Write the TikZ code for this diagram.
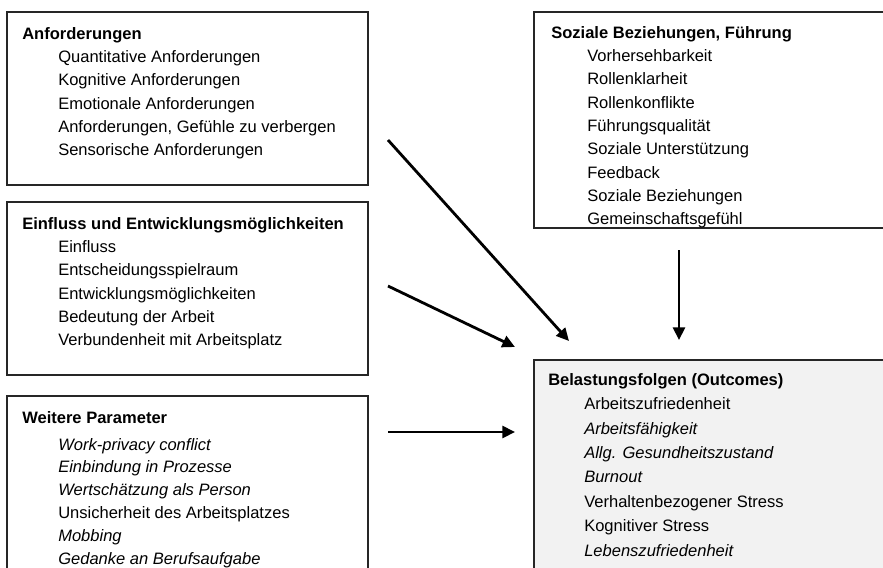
\documentclass[tikz,border=0pt]{standalone}
\usepackage{fontspec}
\setmainfont{Liberation Sans}
\usetikzlibrary{arrows.meta}

\newcommand{\einzug}{\hspace*{27pt}}

\begin{document}
\begin{tikzpicture}[x=0.75pt, y=-0.75pt,
    kasten/.style={draw=black!85, line width=1pt},
    liste/.style={anchor=north west, align=left, inner sep=0pt,
        font=\fontsize{12.4}{17.5}\selectfont},
    pfeil/.style={line width=2.1pt, -{Triangle[length=9.5pt, width=9pt]}}]

    \useasboundingbox (0,0) rectangle (883,568);

    % Kaesten
    \draw[kasten] (7,12) rectangle (368,185);
    \draw[kasten] (534,12) rectangle (895,228);
    \draw[kasten] (7,202) rectangle (368,375);
    \draw[kasten] (7,396) rectangle (368,590);
    \draw[kasten, fill=black!5] (534,360) rectangle (895,590);

    % Anforderungen
    \node[liste] (anf) at (22,27) {\textbf{Anforderungen}\\
        \einzug Quantitative Anforderungen\\
        \einzug Kognitive Anforderungen\\
        \einzug Emotionale Anforderungen\\
        \einzug Anforderungen, Gefühle zu verbergen\\
        \einzug Sensorische Anforderungen};

    % Soziale Beziehungen
    \node[liste] (soz) at (551,26) {\textbf{Soziale Beziehungen, Führung}\\
        \einzug Vorhersehbarkeit\\
        \einzug Rollenklarheit\\
        \einzug Rollenkonflikte\\
        \einzug Führungsqualität\\
        \einzug Soziale Unterstützung\\
        \einzug Feedback\\
        \einzug Soziale Beziehungen\\
        \einzug Gemeinschaftsgefühl};

    % Einfluss
    \node[liste] (einf) at (22,217) {\textbf{Einfluss und Entwicklungsmöglichkeiten}\\
        \einzug Einfluss\\
        \einzug Entscheidungsspielraum\\
        \einzug Entwicklungsmöglichkeiten\\
        \einzug Bedeutung der Arbeit\\
        \einzug Verbundenheit mit Arbeitsplatz};

    % Weitere Parameter
    \node[liste, font=\fontsize{12.4}{17.1}\selectfont] (weit) at (22,411) {\textbf{Weitere Parameter}\\[3pt]
        \einzug\textit{Work-privacy conflict}\\
        \einzug\textit{Einbindung in Prozesse}\\
        \einzug\textit{Wertschätzung als Person}\\
        \einzug Unsicherheit des Arbeitsplatzes\\
        \einzug\textit{Mobbing}\\
        \einzug\textit{Gedanke an Berufsaufgabe}};

    % Belastungsfolgen
    \node[liste, font=\fontsize{12.4}{18.3}\selectfont] (bel) at (548,373) {\textbf{Belastungsfolgen (Outcomes)}\\
        \einzug Arbeitszufriedenheit\\
        \einzug\textit{Arbeitsfähigkeit}\\
        \einzug\textit{Allg. Gesundheitszustand}\\
        \einzug\textit{Burnout}\\
        \einzug Verhaltenbezogener Stress\\
        \einzug Kognitiver Stress\\
        \einzug\textit{Lebenszufriedenheit}};

    % Pfeile
    \coordinate (anfaus) at (388,140);
    \coordinate (anfein) at (569,341);
    \coordinate (einfaus) at (388,286);
    \coordinate (einfein) at (515,347);
    \coordinate (weitaus) at (388,432);
    \coordinate (weitein) at (515,432);
    \coordinate (sozaus) at (679,250);
    \coordinate (sozein) at (679,340);

    \draw[pfeil] (anfaus) -- (anfein);
    \draw[pfeil] (einfaus) -- (einfein);
    \draw[pfeil] (weitaus) -- (weitein);
    \draw[pfeil] (sozaus) -- (sozein);

\end{tikzpicture}
\end{document}
